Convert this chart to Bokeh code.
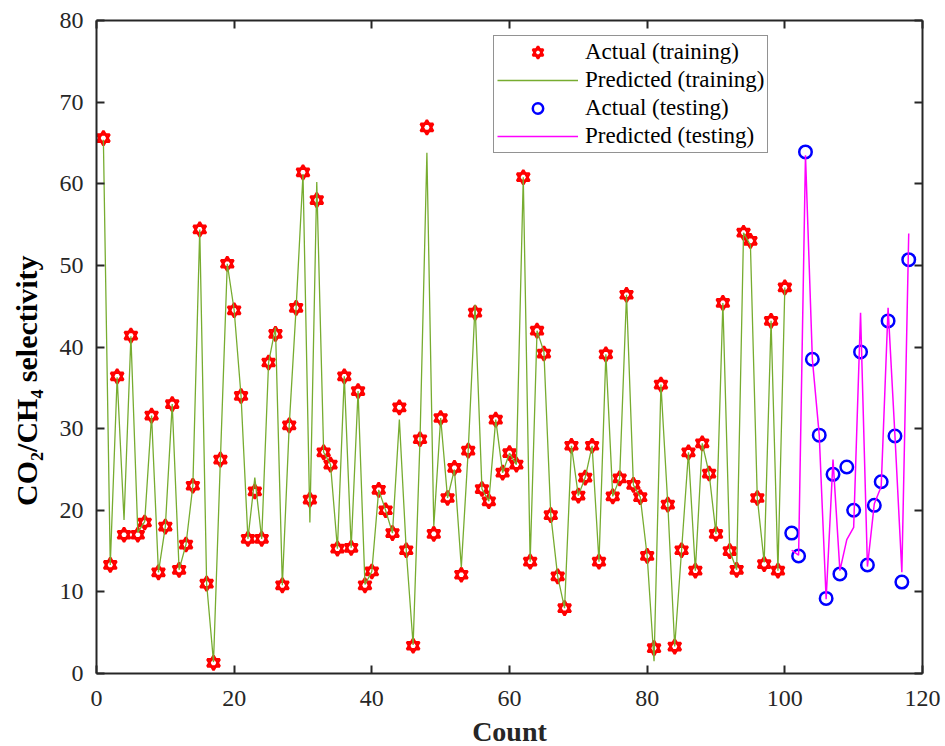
from bokeh.plotting import figure
from bokeh.models import LinearAxis, Legend, LegendItem, FixedTicker, ColumnDataSource, Range1d
from bokeh.embed import file_html
from bokeh.resources import INLINE

# ---------------- data ----------------
train_count = list(range(1, 101))
test_count = list(range(101, 119))

train_actual = [65.6, 13.3, 36.4, 17.0, 41.4, 17.0, 18.5, 31.6, 12.4, 18.0,
                33.0, 12.7, 15.8, 23.0, 54.4, 11.0, 1.3, 26.2, 50.2, 44.5,
                34.0, 16.5, 22.3, 16.5, 38.1, 41.6, 10.8, 30.4, 44.8, 61.4,
                21.3, 58.0, 27.1, 25.6, 15.3, 36.4, 15.4, 34.6, 10.8, 12.5,
                22.5, 20.0, 17.2, 32.6, 15.1, 3.4, 28.7, 66.9, 17.1, 31.3,
                21.5, 25.2, 12.1, 27.3, 44.2, 22.6, 21.1, 31.1, 24.6, 27.0,
                25.6, 60.8, 13.7, 42.0, 39.2, 19.4, 11.9, 8.0, 27.9, 21.8,
                24.0, 27.9, 13.7, 39.1, 21.7, 23.9, 46.4, 23.1, 21.6, 14.4,
                3.1, 35.4, 20.7, 3.3, 15.1, 27.1, 12.6, 28.2, 24.5, 17.1,
                45.4, 15.0, 12.7, 54.0, 53.0, 21.5, 13.4, 43.2, 12.6, 47.3]

train_pred = [65.4, 13.3, 36.3, 18.8, 41.3, 17.3, 18.6, 31.6, 12.4, 18.0,
              33.0, 12.7, 15.8, 23.0, 54.4, 11.0, 1.4, 26.2, 50.2, 44.5,
              34.0, 16.5, 24.0, 16.5, 38.1, 42.4, 10.8, 30.4, 44.8, 61.2,
              18.5, 60.2, 27.1, 25.6, 15.3, 36.4, 15.4, 34.6, 10.9, 12.5,
              22.5, 20.0, 17.2, 31.1, 15.1, 3.5, 28.7, 63.8, 18.0, 31.3,
              21.5, 25.0, 13.0, 27.3, 45.2, 22.6, 21.1, 31.1, 24.6, 27.0,
              25.6, 60.8, 13.7, 42.0, 39.4, 19.4, 11.9, 8.0, 27.9, 21.8,
              24.0, 27.9, 13.7, 39.1, 21.7, 23.9, 46.4, 23.1, 21.6, 14.4,
              1.5, 35.4, 20.7, 3.3, 15.1, 27.1, 12.6, 28.2, 24.5, 17.1,
              45.4, 15.0, 12.7, 54.0, 52.5, 21.5, 13.6, 43.2, 12.6, 47.3]

test_actual = [17.2, 14.4, 63.9, 38.5, 29.2, 9.2, 24.4, 12.2, 25.3, 20.0,
               39.4, 13.3, 20.6, 23.5, 43.2, 29.1, 11.2, 50.7]

test_pred = [15.1, 14.5, 63.5, 38.5, 29.2, 9.1, 26.2, 12.6, 16.4, 17.9,
             44.2, 13.1, 20.8, 22.9, 44.8, 29.1, 12.4, 53.9]

x_ticks = [0, 20, 40, 60, 80, 100, 120]
y_ticks = [0, 10, 20, 30, 40, 50, 60, 70, 80]

FONT = "Liberation Serif"
AX_COLOR = "#262626"

# ---------------- figure ----------------
p = figure(frame_width=826, frame_height=653,
           x_range=Range1d(0, 120), y_range=Range1d(0, 80),
           output_backend="svg", toolbar_location=None,
           min_border_left=96, min_border_right=22,
           min_border_top=20, min_border_bottom=73)
p.grid.visible = False
p.outline_line_color = None
p.background_fill_color = "white"
p.border_fill_color = "white"

bottom_axis = p.below[0]
left_axis = p.left[0]
bottom_axis.axis_label = "Count"
# trailing no-break spaces keep the visible label centred slightly lower, as in the original
left_axis.axis_label = "CO\u2082/CH\u2084 selectivity" + "\u00a0" * 9

top_axis = LinearAxis()
right_axis = LinearAxis()
p.add_layout(top_axis, "above")
p.add_layout(right_axis, "right")

for ax, ticks in [(bottom_axis, x_ticks), (top_axis, x_ticks),
                  (left_axis, y_ticks), (right_axis, y_ticks)]:
    ax.ticker = FixedTicker(ticks=ticks)
    ax.axis_line_color = AX_COLOR
    ax.axis_line_width = 2
    ax.major_tick_line_color = AX_COLOR
    ax.major_tick_line_width = 2
    ax.major_tick_in = 8
    ax.major_tick_out = 0
    ax.minor_tick_line_color = None
    ax.major_label_text_font = FONT
    ax.major_label_text_font_size = "24px"
    ax.major_label_text_color = AX_COLOR

for ax in (top_axis, right_axis):
    ax.major_label_text_color = None
    ax.major_label_text_font_size = "1px"
    ax.major_label_standoff = 0

bottom_axis.major_label_standoff = 17
bottom_axis.axis_label_text_font = FONT
bottom_axis.axis_label_text_font_size = "28px"
bottom_axis.axis_label_text_font_style = "bold"
bottom_axis.axis_label_text_color = AX_COLOR
bottom_axis.axis_label_standoff = 7

left_axis.major_label_standoff = 13
left_axis.axis_label_text_font = FONT
left_axis.axis_label_text_font_size = "30px"
left_axis.axis_label_text_font_style = "bold"
left_axis.axis_label_text_color = "black"
left_axis.axis_label_standoff = 14

# ---------------- glyphs ----------------
src_train = ColumnDataSource(dict(x=train_count, y=train_actual, yp=train_pred))
src_test = ColumnDataSource(dict(x=test_count, y=test_actual, yp=test_pred))

# hexagram marker: two overlapping red triangle outlines
r_t1 = p.scatter("x", "y", source=src_train, marker="triangle", size=12.5,
                 fill_color=None, line_color="red", line_width=2.5)
r_t2 = p.scatter("x", "y", source=src_train, marker="inverted_triangle", size=12.5,
                 fill_color=None, line_color="red", line_width=2.5)
r_tl = p.line("x", "yp", source=src_train, line_color="#77AC30", line_width=1.3)

r_c = p.scatter("x", "y", source=src_test, marker="circle", size=12.5,
                fill_color=None, line_color="#0000FF", line_width=2.5)
r_cl = p.line("x", "yp", source=src_test, line_color="#FF00FF", line_width=1.5)

legend = Legend(items=[
    LegendItem(label="Actual (training)", renderers=[r_t1, r_t2]),
    LegendItem(label="Predicted (training)", renderers=[r_tl]),
    LegendItem(label="Actual (testing)", renderers=[r_c]),
    LegendItem(label="Predicted (testing)", renderers=[r_cl]),
], location=(397, 520))
legend.label_text_font = FONT
legend.label_text_font_size = "23px"
legend.label_text_color = "black"
legend.glyph_width = 81
legend.glyph_height = 26
legend.label_height = 26
legend.label_standoff = 7
legend.spacing = 2
legend.padding = 3
legend.margin = 0
legend.border_line_color = "#262626"
legend.border_line_width = 1
legend.background_fill_color = "white"
legend.background_fill_alpha = 1
p.add_layout(legend)

open("out.html", "w").write(file_html(p, INLINE))
